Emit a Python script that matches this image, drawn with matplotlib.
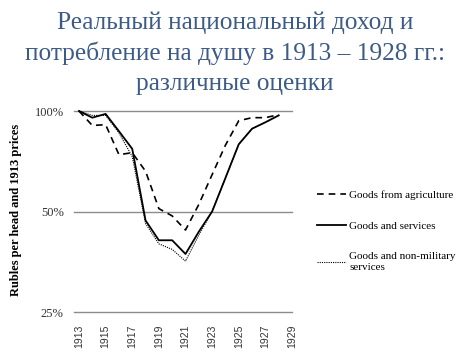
import numpy as np
import matplotlib.pyplot as plt
from matplotlib.ticker import FixedLocator, NullLocator

years = list(range(1913, 1929))
# percent of 1913 level, log scale
agriculture = [100, 90.5, 91, 74, 75, 66, 51, 48.5, 44, 52.5, 64.5, 79, 93.5, 95.5, 95.5, 97.5]
goods_services = [100, 95.5, 98, 87, 77, 47, 41, 41, 37.3, 43.5, 50, 63, 79.5, 88.5, 92.5, 97]
non_military = [100, 97, 97, 86, 73, 46, 40, 38.5, 35.5, 42.5, 50, 63, 79.5, 88.5, 92.5, 97]

xticks = list(range(1913, 1930, 2))
yticks = [25, 50, 100]
ytick_labels = ['25%', '50%', '100%']

title = 'Реальный национальный доход и\nпотребление на душу в 1913 – 1928 гг.:\nразличные оценки'

fig = plt.figure(figsize=(4.7, 3.63), dpi=100)
fig.text(0.5, 0.968, title, ha='center', va='top', family='Liberation Serif',
         fontsize=18.3, color='#3d5b87', linespacing=1.42)

ax = fig.add_axes([79/470, 1-312/363, (292-79)/470, (312-111)/363])
ax.set_yscale('log')
ax.set_xlim(1913, 1929)
ax.set_ylim(25, 100)

for y in yticks:
    ax.axhline(y, color='#8c8c8c', lw=1.0, xmin=-0.025, xmax=1.0, clip_on=False, zorder=0)

ax.plot(years, agriculture, color='black', lw=1.2, ls=(0, (4, 3)), label='Goods from agriculture', clip_on=False)
ax.plot(years, goods_services, color='black', lw=1.3, label='Goods and services', clip_on=False)
ax.plot(years, non_military, color='black', lw=0.8, ls=(0, (1, 1)), label='Goods and non-military\nservices', clip_on=False)

for s in ax.spines.values():
    s.set_visible(False)

ax.yaxis.set_major_locator(FixedLocator(yticks))
ax.yaxis.set_minor_locator(NullLocator())
ax.set_yticklabels(ytick_labels, family='Liberation Serif', fontsize=9, color='#333333')
ax.tick_params(axis='y', length=0, pad=11)

ax.set_xticks(xticks)
ax.set_xticklabels([str(x) for x in xticks], rotation=90, family='Liberation Sans',
                   fontsize=7.5, color='#333333')
ax.tick_params(axis='x', length=0, pad=9)

ax.set_ylabel('Rubles per head and 1913 prices', family='Liberation Serif',
              fontweight='bold', fontsize=9, labelpad=12)
ax.yaxis.set_label_coords(-0.268, 0.51)

fig.legend(loc='upper left', bbox_to_anchor=(313/470, 1-186/363), frameon=False,
           prop={'family': 'Liberation Serif', 'size': 8}, handlelength=2.6,
           labelspacing=1.9, handletextpad=0.25, borderaxespad=0)

fig.savefig('out.png', dpi=100)
